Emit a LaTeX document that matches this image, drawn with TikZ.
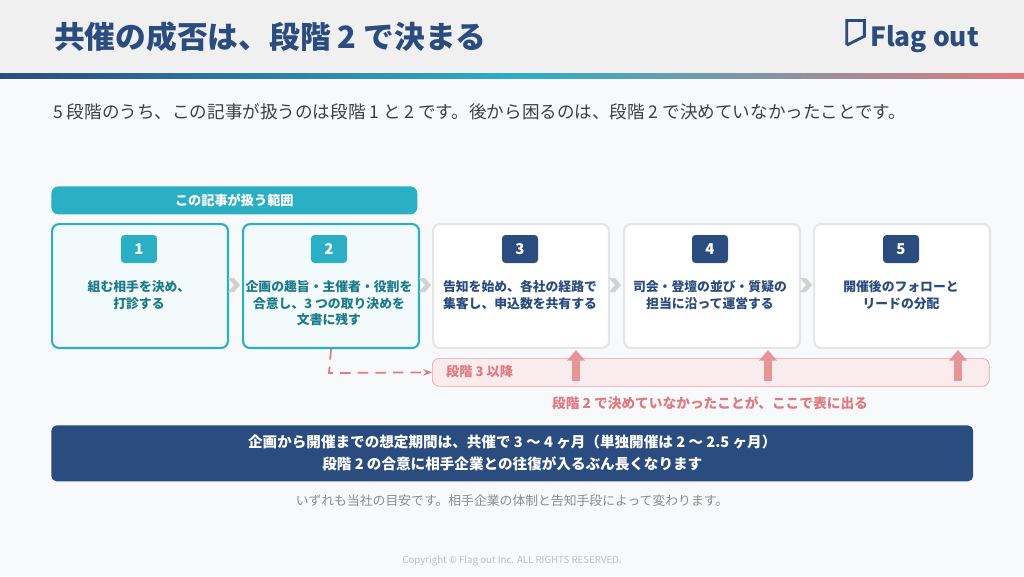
\documentclass[tikz,border=0pt]{standalone}
\usepackage{fontspec}
\setmainfont{Noto Sans CJK JP}
\usetikzlibrary{arrows.meta}
\definecolor{navy}{HTML}{2B4C7E}
\definecolor{teal}{HTML}{2BAFC4}
\definecolor{rose}{HTML}{E07A80}
\definecolor{palebg}{HTML}{F8F9FB}
\tikzset{
  stage/.style={draw=#1,line width=1.2pt,rounded corners=4pt,minimum width=3.52cm,minimum height=2.48cm,anchor=north west},
  badge/.style={fill=#1,rounded corners=2pt,minimum width=0.72cm,minimum height=0.56cm,text=white,font=\bfseries\fontsize{8.5}{8.5}\selectfont},
  body/.style={text=#1,font=\bfseries\fontsize{7.3}{9.6}\selectfont,align=center,anchor=north},
  chev/.style={fill=black!18,draw=none},
  uparr/.style={-{Triangle[width=10pt,length=6pt]},line width=5pt,draw=rose!80},
}
\begin{document}
\begin{tikzpicture}[x=0.02cm,y=-0.02cm]
\useasboundingbox (0,0) rectangle (1024,576);
\fill[palebg] (0,0) rectangle (1024,576);
\fill[black!6] (0,0) rectangle (1024,73);
\shade[left color=navy,right color=teal] (0,73) rectangle (512,78);
\shade[left color=teal,right color=rose] (512,73) rectangle (1024,78);
\node[anchor=west,text=navy,font=\bfseries\fontsize{17.5}{17.5}\selectfont] (title) at (48,37) {共催の成否は、段階 2 で決まる};
\node[anchor=east,text=navy,font=\bfseries\fontsize{15}{15}\selectfont] (logo) at (985,36) {\tikz[x=1pt,y=1pt]{\draw[line width=1.6pt] (0,-1)--(0,13)--(10,13)--(10,4)--(0,-1);}\,Flag out};
\node[anchor=west,text=black!75,font=\fontsize{10}{10}\selectfont] (lead) at (47,112) {5 段階のうち、この記事が扱うのは段階 1 と 2 です。後から困るのは、段階 2 で決めていなかったことです。};

\node[fill=teal,rounded corners=4pt,minimum width=7.32cm,minimum height=0.56cm,anchor=north west,text=white,font=\bfseries\fontsize{7.5}{7.5}\selectfont] (scope) at (51,186) {この記事が扱う範囲};

% stages
\node[stage=teal,fill=teal!6] (s1) at (51,223) {};
\node[stage=teal,fill=teal!6] (s2) at (242,223) {};
\node[stage=black!10,fill=white] (s3) at (432,223) {};
\node[stage=black!10,fill=white] (s4) at (623,223) {};
\node[stage=black!10,fill=white] (s5) at (813,223) {};
\node[badge=teal] (b1) at (139,249) {1};
\node[badge=teal] (b2) at (329,249) {2};
\node[badge=navy] (b3) at (520,249) {3};
\node[badge=navy] (b4) at (710,249) {4};
\node[badge=navy] (b5) at (901,249) {5};
\node[body=teal!70!black] (t1) at (139,274) {組む相手を決め、\\打診する};
\node[body=teal!70!black] (t2) at (329,274) {企画の趣旨・主催者・役割を\\合意し、3 つの取り決めを\\文書に残す};
\node[body=navy] (t3) at (520,274) {告知を始め、各社の経路で\\集客し、申込数を共有する};
\node[body=navy] (t4) at (710,274) {司会・登壇の並び・質疑の\\担当に沿って運営する};
\node[body=navy] (t5) at (901,274) {開催後のフォローと\\リードの分配};
\foreach \x in {234,425,615,806}
  \fill[chev] (\x-6,278) -- (\x,278) -- (\x+6,285) -- (\x,292) -- (\x-6,292) -- (\x,285) -- cycle;

% later stages
\node[draw=rose!70,fill=rose!15,rounded corners=4pt,minimum width=11.14cm,minimum height=0.56cm,anchor=north west] (later) at (432,358) {};
\node[anchor=west,text=rose,font=\bfseries\fontsize{7.5}{7.5}\selectfont] (laterlbl) at (440,372) {段階 3 以降};
\foreach \x in {576,768,958}
  \draw[uparr] (\x,381) -- (\x,350);
\coordinate (bend) at (329,373);
\draw[rose,line width=1pt,dash pattern=on 6pt off 4pt,-{Stealth[length=5pt]}] (s2.south) -- (bend) -- (later.west);
\node[text=rose,font=\bfseries\fontsize{7.8}{7.8}\selectfont] (note) at (710,403) {段階 2 で決めていなかったことが、ここで表に出る};

\node[fill=navy,rounded corners=3pt,minimum width=18.44cm,minimum height=1.12cm,anchor=north west] (period) at (51,425) {};
\node[text=white,align=center,font=\bfseries\fontsize{8.3}{12.5}\selectfont] (periodtxt) at (period.center) {企画から開催までの想定期間は、共催で 3 〜 4 ヶ月（単独開催は 2 〜 2.5 ヶ月）\\段階 2 の合意に相手企業との往復が入るぶん長くなります};
\node[text=black!45,font=\fontsize{7.3}{7.3}\selectfont] (foot) at (512,501) {いずれも当社の目安です。相手企業の体制と告知手段によって変わります。};
\node[text=black!25,font=\fontsize{5.5}{5.5}\selectfont] (copy) at (512,561) {Copyright © Flag out Inc. ALL RIGHTS RESERVED.};
\end{tikzpicture}
\end{document}
